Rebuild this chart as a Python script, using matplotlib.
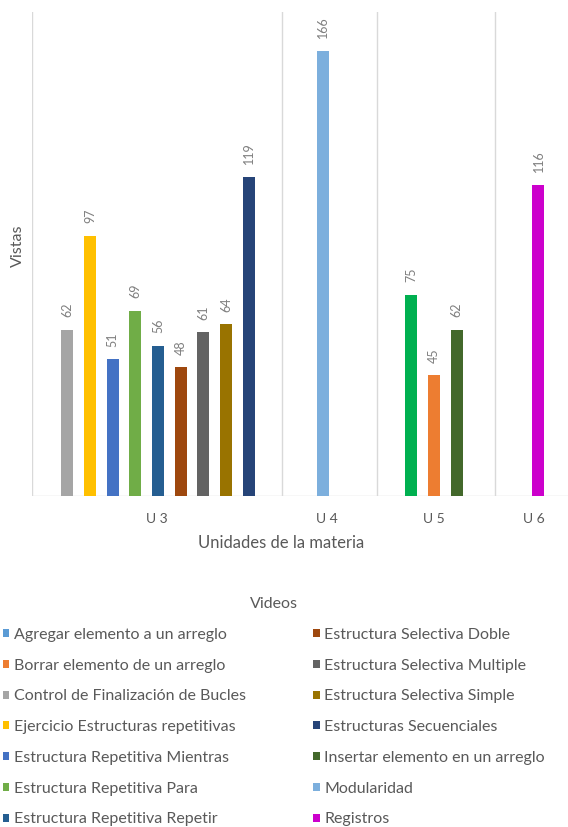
"""
Vistas por video, agrupadas por unidad de la materia (U 3 .. U 6).
Saves out.png (568x827).
"""

import matplotlib.pyplot as plt
from matplotlib.patches import Patch

# =============================================================================
# DATA
# =============================================================================

UNITS = ["U 3", "U 4", "U 5", "U 6"]

U3_VIDEOS = [
    "Control de Finalización de Bucles",
    "Ejercicio Estructuras repetitivas",
    "Estructura Repetitiva Mientras",
    "Estructura Repetitiva Para",
    "Estructura Repetitiva Repetir",
    "Estructura Selectiva Doble",
    "Estructura Selectiva Multiple",
    "Estructura Selectiva Simple",
    "Estructuras Secuenciales",
]
U3_VIEWS = [62, 97, 51, 69, 56, 48, 61, 64, 119]

U4_VIDEOS = ["Modularidad"]
U4_VIEWS = [166]

U5_VIDEOS = [
    "Agregar elemento a un arreglo",
    "Borrar elemento de un arreglo",
    "Insertar elemento en un arreglo",
]
U5_VIEWS = [75, 45, 62]

U6_VIDEOS = ["Registros"]
U6_VIEWS = [116]

# legend order (Excel lists series alphabetically)
LEGEND_VIDEOS = [
    "Agregar elemento a un arreglo",
    "Borrar elemento de un arreglo",
    "Control de Finalización de Bucles",
    "Ejercicio Estructuras repetitivas",
    "Estructura Repetitiva Mientras",
    "Estructura Repetitiva Para",
    "Estructura Repetitiva Repetir",
    "Estructura Selectiva Doble",
    "Estructura Selectiva Multiple",
    "Estructura Selectiva Simple",
    "Estructuras Secuenciales",
    "Insertar elemento en un arreglo",
    "Modularidad",
    "Registros",
]

# =============================================================================
# STYLE
# =============================================================================

BAR_COLORS = {
    "Agregar elemento a un arreglo": "#00B050",
    "Borrar elemento de un arreglo": "#ED7D31",
    "Control de Finalización de Bucles": "#A5A5A5",
    "Ejercicio Estructuras repetitivas": "#FFC000",
    "Estructura Repetitiva Mientras": "#4472C4",
    "Estructura Repetitiva Para": "#70AD47",
    "Estructura Repetitiva Repetir": "#255E91",
    "Estructura Selectiva Doble": "#9E480E",
    "Estructura Selectiva Multiple": "#636363",
    "Estructura Selectiva Simple": "#997300",
    "Estructuras Secuenciales": "#264478",
    "Insertar elemento en un arreglo": "#43682B",
    "Modularidad": "#7CAFDD",
    "Registros": "#CC00CC",
}
# the legend swatch for "Agregar" is blue in the original, not the bar green
LEGEND_COLORS = dict(BAR_COLORS)
LEGEND_COLORS["Agregar elemento a un arreglo"] = "#5B9BD5"

TEXT_GRAY = "#595959"
LABEL_GRAY = "#7F7F7F"
GRID_GRAY = "#D9D9D9"

# group layout in "bar slot" units (one slot = spacing between bars)
GROUP_EDGES = [0.0, 11.0, 15.2, 20.4]
GROUP_CENTERS = [5.55, 12.8, 17.7, 22.3]
TICK_POS = [5.5, 13.0, 17.7, 22.1]
X_MAX = 23.6
BAR_WIDTH = 0.53

plt.rcParams["font.family"] = ["Lato", "DejaVu Sans"]

# =============================================================================
# PLOT
# =============================================================================

fig = plt.figure(figsize=(5.68, 8.27), dpi=100)
ax = fig.add_axes([32 / 568, 1 - 496 / 827, 1 - 32 / 568, (496 - 12) / 827])

groups = [
    (U3_VIDEOS, U3_VIEWS),
    (U4_VIDEOS, U4_VIEWS),
    (U5_VIDEOS, U5_VIEWS),
    (U6_VIDEOS, U6_VIEWS),
]

for center, (videos, views) in zip(GROUP_CENTERS, groups):
    n = len(videos)
    xs = [center + (i - (n - 1) / 2) for i in range(n)]
    colors = [BAR_COLORS[v] for v in videos]
    bars = ax.bar(xs, views, width=BAR_WIDTH, color=colors, zorder=3)
    for b, v in zip(bars, views):
        ax.annotate(
            f"{v}",
            (b.get_x() + b.get_width() / 2, b.get_height()),
            xytext=(0, 9),
            textcoords="offset points",
            rotation=90,
            ha="center",
            va="bottom",
            fontsize=9,
            color=LABEL_GRAY,
        )

for x in GROUP_EDGES:
    ax.axvline(x, color=GRID_GRAY, linewidth=1.0, zorder=1)
ax.axhline(0, color=GRID_GRAY, linewidth=1.0, zorder=2)

ax.set_xlim(0, X_MAX)
ax.set_ylim(0, 180.5)

for s in ax.spines.values():
    s.set_visible(False)
ax.set_yticks([])
ax.set_xticks(TICK_POS)
ax.set_xticklabels(UNITS, fontsize=10, color=TEXT_GRAY)
ax.tick_params(axis="x", length=0, pad=12)

fig.text(281 / 568, 1 - 543 / 827, "Unidades de la materia", ha="center", va="center",
         fontsize=12, color=TEXT_GRAY)
fig.text(18 / 568, 1 - 246 / 827, "Vistas", rotation=90, ha="center", va="center",
         fontsize=11.5, color=TEXT_GRAY)

handles = [Patch(facecolor=LEGEND_COLORS[v], edgecolor="none") for v in LEGEND_VIDEOS]
leg = fig.legend(
    handles,
    LEGEND_VIDEOS,
    ncol=2,
    loc="upper left",
    bbox_to_anchor=(3 / 568, 1 - 597 / 827),
    frameon=False,
    title="Videos",
    title_fontsize=11.5,
    fontsize=11.5,
    handlelength=0.4,
    handleheight=0.4,
    handletextpad=0.3,
    labelspacing=1.05,
    columnspacing=4.2,
    borderaxespad=0.0,
    borderpad=0.0,
)
for t in leg.get_texts():
    t.set_color(TEXT_GRAY)
leg.get_title().set_color(TEXT_GRAY)

fig.savefig("out.png", dpi=100)
